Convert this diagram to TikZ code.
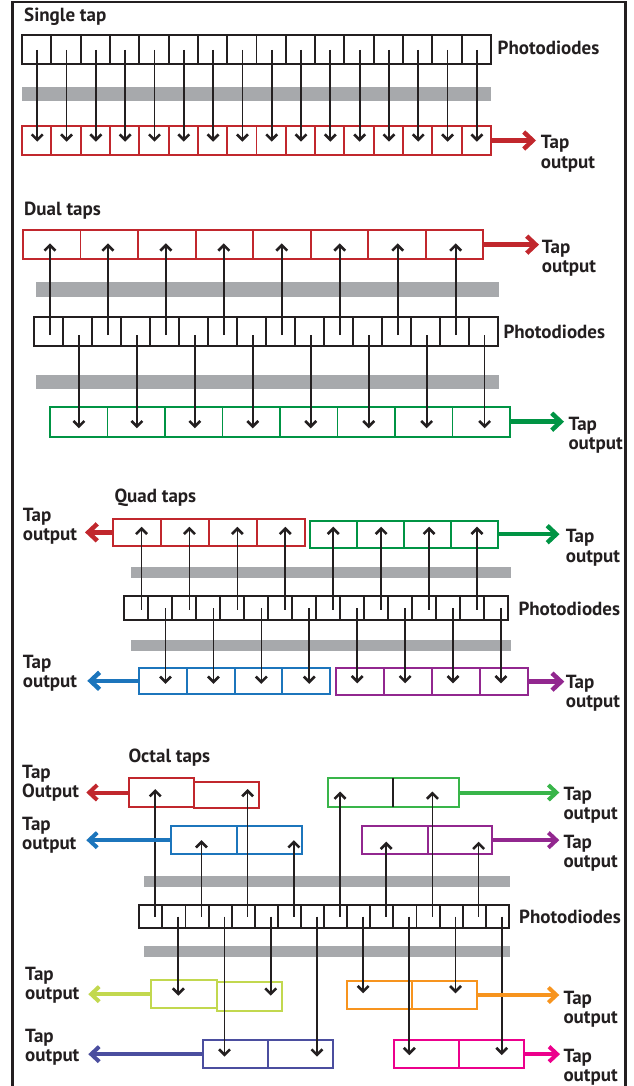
\documentclass[tikz,border=0pt]{standalone}
\usepackage{fontspec}
\setmainfont{PT Sans}
\usetikzlibrary{arrows.meta,calc}
\definecolor{ink}{HTML}{231F20}
\definecolor{barg}{HTML}{A7A9AC}
\definecolor{cred}{HTML}{C1272D}
\definecolor{cgreen}{HTML}{009444}
\definecolor{cblue}{HTML}{1C75BC}
\definecolor{cpurple}{HTML}{92278F}
\definecolor{clime}{HTML}{C2D84F}
\definecolor{cnavy}{HTML}{4B4E9F}
\definecolor{cgreenb}{HTML}{39B54A}
\definecolor{corange}{HTML}{F7941E}
\definecolor{cmag}{HTML}{EC008C}
\tikzset{
  cellbox/.style={draw=#1, line width=1.9pt, inner sep=0pt, outer sep=0pt, anchor=north west},
  bar/.style={fill=barg, draw=none},
  sig/.style={draw=ink, line width=1.7pt, -{Straight Barb[length=5.5pt,width=11pt,line width=2.6pt]}},
  outarr/.style={draw=#1, line width=4.5pt, -{Straight Barb[length=9pt,width=17pt]}},
  outarro/.style={draw=#1, line width=4pt, -{Straight Barb[length=8pt,width=15pt]}},
  txt/.style={font=\bfseries\fontsize{19}{19.3}\selectfont, text=ink, inner sep=0pt, anchor=base west},
  frame/.style={draw=ink, line width=2.4pt},
}
\newcommand\tapo[2]{\begin{tabular}[t]{@{}l@{}}#1\\#2\end{tabular}}
\newcommand\cellrow[7]{\foreach \k in {1,...,#6}{\node[cellbox=#7, minimum width=#4pt, minimum height=#5pt] (#1-\k) at ({#2+(\k-1)*#4},#3) {};}}
\newcommand\boxat[6]{\node[cellbox=#6, minimum width={(#4-#2)*1pt}, minimum height={(#5-#3)*1pt}] (#1) at (#2,#3) {};}
\newcommand\sigarr[5]{%
  \coordinate (sA) at ($(#1.west)!#2!(#1.east)+(0,#3)$);
  \draw[sig] (sA) -- ($(sA |- #4.center)+(0,#5)$);}
\begin{document}
\begin{tikzpicture}[x=1pt,y=-1pt]
\useasboundingbox (0,0) rectangle (633,1086);
\draw[frame] (12.5,1092) -- (12.5,2) -- (625.3,2) -- (625.3,1092);

% ---------------- Single tap ----------------
\node[txt] (tS) at (24,22) {Single tap};
\cellrow{sp}{22}{35}{29.31}{29}{16}{ink}
\fill[bar] (22,87) rectangle (491,101);
\cellrow{st}{22}{126}{29.31}{29}{16}{cred}
\foreach \i in {1,...,16}{\sigarr{sp-\i}{0.52}{0.5}{st-\i}{1.2}}
\node[txt] (pS) at (497.5,55) {Photodiodes};
\node[txt] (oS) at (540.7,149) {\tapo{Tap}{output}};
\coordinate (tipS) at (536,140);
\draw[outarr=cred] (st-16.east) -- (tipS |- st-16.east);

% ---------------- Dual taps ----------------
\node[txt] (tD) at (24,215) {Dual taps};
\cellrow{dr}{23}{230}{57.54}{29.3}{8}{cred}
\fill[bar] (36,282.3) rectangle (499,296.7);
\cellrow{dp}{34}{316.7}{28.98}{29}{16}{ink}
\fill[bar] (36,375) rectangle (499,389.3);
\cellrow{dg}{50}{406.7}{57.5}{30}{8}{cgreen}
\foreach \i [count=\j] in {1,3,...,15}{\sigarr{dp-\i}{0.55}{3.8}{dr-\j}{-1.3}}
\foreach \i [count=\j] in {2,4,...,16}{\sigarr{dp-\i}{0.55}{3.8}{dg-\j}{6.6}}
\node[txt] (pD) at (503.3,338.3) {Photodiodes};
\node[txt] (oD1) at (541.7,253.3) {\tapo{Tap}{output}};
\node[txt] (oD2) at (568.3,430) {\tapo{Tap}{output}};
\coordinate (tipD1) at (539,246);
\coordinate (tipD2) at (564,422);
\draw[outarr=cred] (dr-8.east) -- (tipD1 |- dr-8.east);
\draw[outarr=cgreen] (dg-8.east) -- (tipD2 |- dg-8.east);

% ---------------- Quad taps ----------------
\node[txt] (tQ) at (114.3,502.7) {Quad taps};
\cellrow{qr}{113.3}{519}{47.9}{26.7}{4}{cred}
\cellrow{qg}{310}{520.7}{47.1}{27}{4}{cgreen}
\fill[bar] (131,567.3) rectangle (511,578);
\cellrow{qp}{124.3}{596}{23.96}{24.3}{16}{ink}
\fill[bar] (131,640) rectangle (511,650.7);
\cellrow{qb}{139.3}{667.7}{47.7}{26.3}{4}{cblue}
\cellrow{qv}{335.7}{668.3}{48}{26.7}{4}{cpurple}
\foreach \i [count=\j] in {1,3,5,7}{\sigarr{qp-\i}{0.72}{1.5}{qr-\j}{-5.6}}
\foreach \i [count=\j] in {9,11,13,15}{\sigarr{qp-\i}{0.72}{1.5}{qg-\j}{-7.5}}
\foreach \i [count=\j] in {2,4,6,8}{\sigarr{qp-\i}{0.72}{0}{qb-\j}{3}}
\foreach \i [count=\j] in {10,12,14,16}{\sigarr{qp-\i}{0.72}{0}{qv-\j}{1.7}}
\node[txt] (pQ) at (518.3,615) {Photodiodes};
\node[txt] (oQ1) at (22.7,521) {\tapo{Tap}{output}};
\node[txt] (oQ2) at (565.7,542.7) {\tapo{Tap}{output}};
\node[txt] (oQ3) at (22.7,668) {\tapo{Tap}{output}};
\node[txt] (oQ4) at (565.7,688.3) {\tapo{Tap}{output}};
\coordinate (tipQ1) at (85,533);
\coordinate (tipQ2) at (559.5,533);
\coordinate (tipQ3) at (87.3,681);
\coordinate (tipQ4) at (564.3,681);
\draw[outarr=cred] (qr-1.west) -- (tipQ1 |- qr-1.west);
\draw[outarr=cgreen] (qg-4.east) -- (tipQ2 |- qg-4.east);
\draw[outarr=cblue] (qb-1.west) -- (tipQ3 |- qb-1.west);
\draw[outarr=cpurple] (qv-4.east) -- (tipQ4 |- qv-4.east);

% ---------------- Octal taps ----------------
\node[txt] (tO) at (128.3,762.3) {Octal taps};
\boxat{oR1}{129}{778.3}{194}{806.7}{cred}
\boxat{oR2}{194}{781.7}{259}{808.3}{cred}
\boxat{oB1}{171}{826}{236.7}{854.3}{cblue}
\boxat{oB2}{236.7}{826}{301.7}{854.3}{cblue}
\boxat{oG1}{328.3}{778.3}{393.3}{806.7}{cgreenb}
\boxat{oG2}{393.3}{778.3}{459}{806.7}{cgreenb}
\draw[draw=ink, line width=1.9pt] (oG1.north east) -- (oG1.south east);
\boxat{oV1}{362.3}{826}{427.7}{854.3}{cpurple}
\boxat{oV2}{427.7}{826}{492.3}{854.3}{cpurple}
\fill[bar] (144,876) rectangle (510,886.7);
\cellrow{op}{139.3}{905}{23.1}{23.3}{16}{ink}
\fill[bar] (144,946) rectangle (510,956.7);
\boxat{oL1}{151}{980}{216.7}{1008.3}{clime}
\boxat{oL2}{216.7}{982.3}{281.7}{1010.7}{clime}
\boxat{oN1}{203.3}{1040}{267.7}{1068.3}{cnavy}
\boxat{oN2}{267.7}{1040}{333.3}{1068.3}{cnavy}
\boxat{oO1}{347.3}{981}{411.7}{1009}{corange}
\boxat{oO2}{411.7}{981}{476.7}{1009}{corange}
\boxat{oM1}{394.3}{1040}{459}{1068.3}{cmag}
\boxat{oM2}{459}{1040}{524}{1068.3}{cmag}
\foreach \c/\t/\d in {1/oR1/-3.5, 2/oL1/1.5, 3/oB1/0, 4/oN1/2.5, 5/oR2/-6, 6/oL2/-0.8, 7/oB2/0, 8/oN2/2.5, 9/oG1/-1, 10/oO1/-1.7, 11/oV1/1.5, 12/oM1/1, 13/oG2/-1, 14/oO2/-1.7, 15/oV2/1.5, 16/oM2/1}{\sigarr{op-\c}{0.69}{0}{\t}{\d}}
\node[txt] (pO) at (519,923.3) {Photodiodes};
\node[txt] (oO1l) at (22,778) {\tapo{Tap}{Output}};
\node[txt] (oO2l) at (22,830) {\tapo{Tap}{output}};
\node[txt] (oO3l) at (563.3,800) {\tapo{Tap}{output}};
\node[txt] (oO4l) at (563.3,848.3) {\tapo{Tap}{output}};
\node[txt] (oO5l) at (25,980) {\tapo{Tap}{output}};
\node[txt] (oO6l) at (25,1042) {\tapo{Tap}{output}};
\node[txt] (oO7l) at (563.3,1004.3) {\tapo{Tap}{output}};
\node[txt] (oO8l) at (563.3,1062.3) {\tapo{Tap}{output}};
\coordinate (tipO1) at (86.3,792);
\coordinate (tipO2) at (86.3,841);
\coordinate (tipO3) at (559.3,792);
\coordinate (tipO4) at (559.3,841);
\coordinate (tipO5) at (88.3,995);
\coordinate (tipO6) at (88.3,1054);
\coordinate (tipO7) at (559.3,996);
\coordinate (tipO8) at (560,1054);
\draw[outarro=cred] (oR1.west) -- (tipO1 |- oR1.west);
\draw[outarro=cblue] (oB1.west) -- (tipO2 |- oB1.west);
\draw[outarro=cgreenb] (oG2.east) -- (tipO3 |- oG2.east);
\draw[outarro=cpurple] (oV2.east) -- (tipO4 |- oV2.east);
\draw[outarro=clime] (oL1.west) -- (tipO5 |- oL1.west);
\draw[outarro=cnavy] (oN1.west) -- (tipO6 |- oN1.west);
\draw[outarro=corange] (oO2.east) -- (tipO7 |- oO2.east);
\draw[outarro=cmag] (oM2.east) -- (tipO8 |- oM2.east);
\end{tikzpicture}
\end{document}
